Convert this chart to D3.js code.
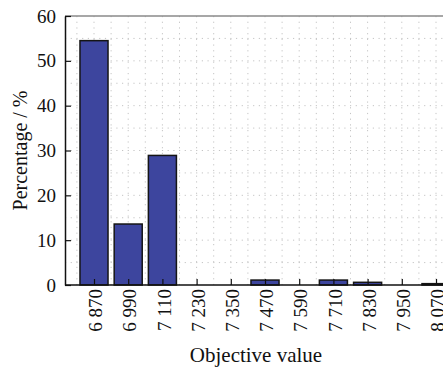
<!DOCTYPE html>
<html>
<head>
<meta charset="utf-8">
<script src="https://cdn.jsdelivr.net/npm/d3@7"></script>
<style>
  html, body { margin: 0; padding: 0; background: #fff; }
  svg { display: block; }
  text { font-family: "Liberation Serif", "Times New Roman", serif; fill: #111; }
</style>
</head>
<body>
<svg id="chart" width="443" height="370"></svg>
<script>
// Histogram of objective values (bin centres) and share of runs in each bin
const categories = [6870, 6990, 7110, 7230, 7350, 7470, 7590, 7710, 7830, 7950, 8070];
const percentages = [54.5, 13.6, 28.9, 0, 0, 1.1, 0, 1.1, 0.6, 0, 0.3];
const yTicks = [0, 10, 20, 30, 40, 50, 60];
const xLabel = "Objective value";
const yLabel = "Percentage / %";

const svg = d3.select("#chart");
const frame = { left: 65, right: 452, top: 16, bottom: 285 };

const x = d3.scaleLinear().domain([6870, 8070]).range([94, 436]);
const y = d3.scaleLinear().domain([0, 60]).range([frame.bottom, frame.top]);
const barWidth = (x(6990) - x(6870)) * 0.82;

const fmt = v => { const s = String(v); return s.slice(0, 1) + " " + s.slice(1); };

// dotted grid: every half bin horizontally, every 5 % vertically
const grid = svg.append("g");
const xGrid = d3.range(6810, 8200, 60).filter(v => x(v) > frame.left + 1);
grid.selectAll("line.gx").data(xGrid).join("line")
  .attr("x1", d => x(d)).attr("x2", d => x(d))
  .attr("y1", frame.top).attr("y2", frame.bottom)
  .attr("stroke", "#c4c4c4").attr("stroke-width", 1).attr("stroke-dasharray", "1.2,4.5");
grid.selectAll("line.gy").data(d3.range(5, 60, 5)).join("line")
  .attr("x1", frame.left).attr("x2", frame.right)
  .attr("y1", d => y(d)).attr("y2", d => y(d))
  .attr("stroke", "#c4c4c4").attr("stroke-width", 1).attr("stroke-dasharray", "1.2,4.5");

// bars
svg.append("g").selectAll("rect").data(categories).join("rect")
  .attr("x", (d) => x(d) - barWidth / 2)
  .attr("width", barWidth)
  .attr("y", (d, i) => y(percentages[i]))
  .attr("height", (d, i) => y(0) - y(percentages[i]))
  .attr("fill", "#3d459e")
  .attr("stroke", "#151515").attr("stroke-width", 1.5);

// frame: grey top edge, black left and bottom axes
svg.append("line").attr("x1", frame.left).attr("x2", frame.right)
  .attr("y1", frame.top).attr("y2", frame.top)
  .attr("stroke", "#8a8a8a").attr("stroke-width", 1.6);

// y axis with inward ticks
const yAxis = svg.append("g").attr("transform", `translate(${frame.left},0)`)
  .call(d3.axisLeft(y).tickValues(yTicks).tickSizeInner(-6).tickSizeOuter(0).tickPadding(9));
yAxis.select(".domain").attr("stroke", "#111").attr("stroke-width", 1.5);
yAxis.selectAll(".tick line").attr("stroke", "#111").attr("stroke-width", 1.2);
yAxis.selectAll(".tick text").attr("font-size", 19).attr("font-family", "Liberation Serif").attr("fill", "#111");

// x axis with inward ticks and rotated labels
const xAxis = svg.append("g").attr("transform", `translate(0,${frame.bottom})`)
  .call(d3.axisBottom(x).tickValues(categories).tickSizeInner(-6).tickSizeOuter(0).tickFormat(fmt));
xAxis.select(".domain").attr("d", `M${frame.left},0H${frame.right}`)
  .attr("stroke", "#111").attr("stroke-width", 1.5);
xAxis.selectAll(".tick line").attr("stroke", "#111").attr("stroke-width", 1.2);
xAxis.selectAll(".tick text")
  .attr("font-size", 19).attr("font-family", "Liberation Serif").attr("fill", "#111")
  .attr("text-anchor", "end")
  .attr("transform", "rotate(-90)")
  .attr("x", -4).attr("y", 1).attr("dy", "0.35em");

// axis titles
svg.append("text").attr("x", 256).attr("y", 362)
  .attr("text-anchor", "middle").attr("font-size", 21).text(xLabel);
svg.append("text").attr("transform", `translate(27,${(frame.top + frame.bottom) / 2}) rotate(-90)`)
  .attr("text-anchor", "middle").attr("font-size", 20).text(yLabel);
</script>
</body>
</html>
